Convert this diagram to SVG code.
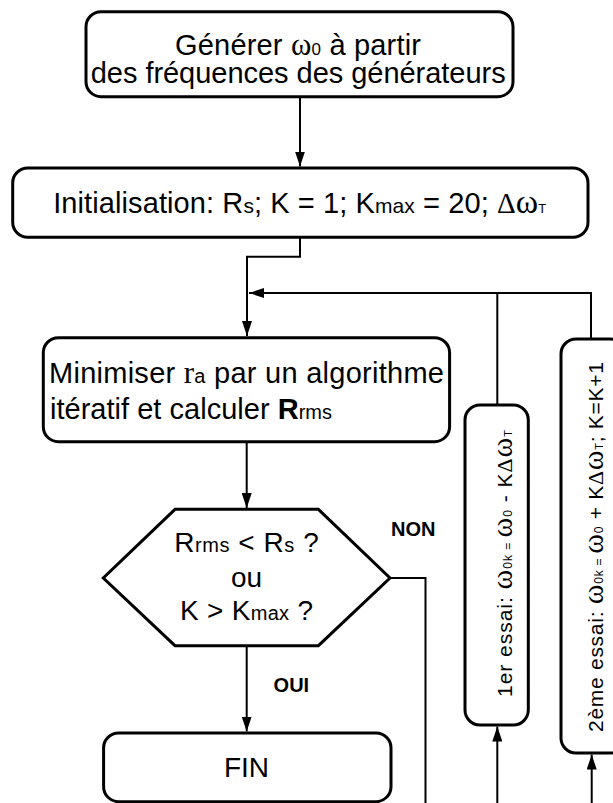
<svg xmlns="http://www.w3.org/2000/svg" width="613" height="803" viewBox="0 0 613 803">
<defs>
<style>
.box{fill:#fff;stroke:#000;stroke-width:3}
.con{fill:none;stroke:#000;stroke-width:2}
.t{font-family:'Liberation Sans',Arial,sans-serif;font-size:29px;fill:#000}
.h{font-family:'Liberation Sans',Arial,sans-serif;font-size:28px;fill:#000}
.v{font-family:'Liberation Sans',Arial,sans-serif;font-size:21px;fill:#000}
.lab{font-family:'Liberation Sans',Arial,sans-serif;font-size:20px;font-weight:bold;fill:#000}
.sf{font-family:'Liberation Serif','Times New Roman',serif}
</style>
<marker id="ah" viewBox="0 0 15 10" refX="15" refY="5" markerWidth="15" markerHeight="10" markerUnits="userSpaceOnUse" orient="auto">
<path d="M0,0 L15,5 L0,10 z" fill="#000"/>
</marker>
</defs>
<rect width="613" height="803" fill="#fff"/>

<g id="connectors">
<path class="con" d="M300,97 V166.5" marker-end="url(#ah)"/>
<path class="con" d="M300,237 V256.7 H247 V336" marker-end="url(#ah)"/>
<path class="con" d="M591,339 V293 H249" marker-end="url(#ah)"/>
<path class="con" d="M497.3,405 V293"/>
<path class="con" d="M246.7,441.7 V508" marker-end="url(#ah)"/>
<path class="con" d="M246.7,645.7 V731.5" marker-end="url(#ah)"/>
<path class="con" d="M390,578 H425.5 V803"/>
<path class="con" d="M497.3,803 V726.5" marker-end="url(#ah)"/>
<path class="con" d="M591.7,803 V754.5" marker-end="url(#ah)"/>
<text class="lab" x="391" y="536">NON</text>
<text class="lab" x="273.6" y="692">OUI</text>
</g>

<g id="n_generer">
<rect class="box" x="86" y="11.7" width="427" height="85" rx="15"/>
<text class="t" x="298" y="55" text-anchor="middle" textLength="246" font-size="28">Générer <tspan class="sf" font-size="31">ω</tspan><tspan font-size="17">0</tspan> à partir</text>
<text class="t" x="298.2" y="83.3" text-anchor="middle" textLength="415" font-size="28">des fréquences des générateurs</text>
</g>

<g id="n_init">
<rect class="box" x="12.7" y="168" width="575.3" height="69.3" rx="15"/>
<text class="t" x="299.7" y="213.3" text-anchor="middle" textLength="493">Initialisation: R<tspan font-size="21">s</tspan>; K = 1; K<tspan font-size="21">max</tspan> = 20; <tspan class="sf" font-size="29">Δ</tspan><tspan class="sf" font-size="34">ω</tspan><tspan font-size="13">T</tspan></text>
</g>

<g id="n_minimiser">
<rect class="box" x="43.3" y="337.7" width="406.3" height="104" rx="15"/>
<text class="t" x="49" y="383" textLength="395">Minimiser <tspan class="sf" font-size="31">r</tspan><tspan font-size="20">a</tspan> par un algorithme</text>
<text class="t" x="50" y="419" textLength="282">itératif et calculer <tspan font-weight="bold">R</tspan><tspan font-size="20">rms</tspan></text>
</g>

<g id="n_test">
<polygon class="box" points="175,509.3 318.4,509.3 390,578 318.4,645.7 175,645.7 103.3,578"/>
<text class="h" x="246.5" y="552" text-anchor="middle" textLength="144.6">R<tspan font-size="20">rms</tspan> &lt; R<tspan font-size="20">s</tspan> ?</text>
<text class="h" x="246.5" y="587" text-anchor="middle">ou</text>
<text class="h" x="246.5" y="620" text-anchor="middle" textLength="133">K &gt; K<tspan font-size="20">max</tspan> ?</text>
</g>

<g id="n_fin">
<rect class="box" x="103.6" y="733" width="287.4" height="68.7" rx="15"/>
<text class="h" x="246.5" y="777" text-anchor="middle">FIN</text>
</g>

<g id="n_essai1">
<rect class="box" x="465" y="405" width="63.3" height="320" rx="15"/>
<text class="v" transform="translate(512,697) rotate(-90)" x="0" y="0" textLength="267">1er essai: <tspan class="sf" font-size="30">ω</tspan><tspan font-size="12">0k = </tspan><tspan class="sf" font-size="30">ω</tspan><tspan font-size="12">0</tspan> - K<tspan class="sf" font-size="22">Δ</tspan><tspan class="sf" font-size="30">ω</tspan><tspan font-size="11">T</tspan></text>
</g>

<g id="n_essai2">
<rect class="box" x="561" y="339" width="64" height="414" rx="15"/>
<text class="v" transform="translate(603,732) rotate(-90)" x="0" y="0" textLength="370">2ème essai: <tspan class="sf" font-size="30">ω</tspan><tspan font-size="12">0k = </tspan><tspan class="sf" font-size="30">ω</tspan><tspan font-size="12">0</tspan> + K<tspan class="sf" font-size="22">Δ</tspan><tspan class="sf" font-size="30">ω</tspan><tspan font-size="11">T</tspan>; K=K+1</text>
</g>
</svg>
